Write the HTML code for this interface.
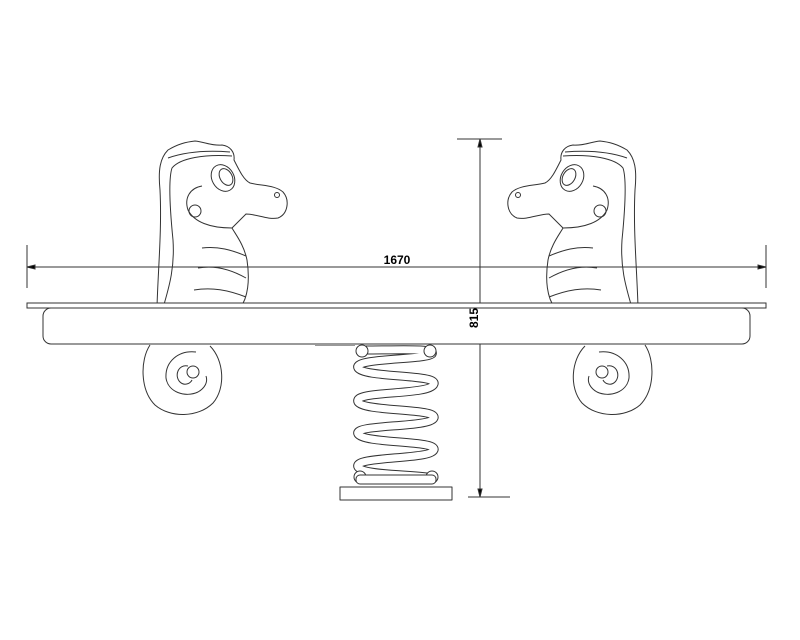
<!DOCTYPE html>
<html><head><meta charset="utf-8"><style>html,body{margin:0;padding:0;background:#fff}svg{display:block}</style></head>
<body>
<svg width="800" height="640" viewBox="0 0 800 640" xmlns="http://www.w3.org/2000/svg">
<g fill="none" stroke="#333" stroke-width="1">
<defs>
<g id="sh">
 <path d="M157,307 C158,270 162,230 160,190 C158,170 160,158 168,150 C178,144 186,142 195,141 C205,142 212,146 222,145 C230,146 235,152 234,160 C240,172 244,180 250,183 C262,186 275,185 283,192 C290,200 288,214 278,218 C268,220 256,214 246,214 C240,220 235,225 232,228 C236,235 244,245 247,260 C250,280 248,298 240,308"/>
 <path d="M163,308 C168,290 175,270 173,240 C170,210 168,180 172,168 C180,158 205,154 232,156"/>
 <path d="M168,158 C185,152 205,150 230,152"/>
 <ellipse cx="223" cy="178" rx="11" ry="14" transform="rotate(-30 223 178)"/>
 <ellipse cx="226" cy="177" rx="6" ry="9" transform="rotate(-30 226 177)"/>
 <circle cx="277" cy="195" r="2.5"/>
 <path d="M202,186 C190,188 184,198 188,210 C194,222 210,228 232,228"/>
 <circle cx="195" cy="211" r="6"/>
 <path d="M202,248 C218,246 232,250 246,256"/>
 <path d="M198,268 C215,265 232,270 246,278"/>
 <path d="M194,290 C212,287 228,290 246,297"/>
 <path d="M150,345 C140,360 140,390 155,405 C170,418 198,418 213,403 C226,388 224,360 210,346"/>
 <path d="M196,352 C178,350 165,362 166,378 C168,392 185,398 198,392 C205,388 208,382 206,376"/>
 <path d="M188,366 C178,364 174,376 180,382 C184,386 190,384 192,380"/>
 <circle cx="193" cy="372" r="6"/>
</g>
</defs>
<use href="#sh"/>
<use href="#sh" transform="translate(795,0) scale(-1,1)"/>
<line x1="27" y1="245" x2="27" y2="288"/>
<line x1="766" y1="245" x2="766" y2="288"/>
<line x1="27" y1="267" x2="766" y2="267"/>
<path d="M27,267 l8,-2 v4z M766,267 l-8,-2 v4z" fill="#000"/>
<line x1="457" y1="139" x2="502" y2="139"/>
<line x1="468" y1="497" x2="510" y2="497"/>
<line x1="480" y1="139" x2="480" y2="497"/>
<path d="M480,139 l-2,8 h4z M480,497 l-2,-8 h4z" fill="#000"/>
<rect x="27" y="303" width="739" height="5" fill="#fff"/>
<rect x="43" y="308" width="707" height="36" rx="8" fill="#fff"/>
<line x1="315" y1="345" x2="355" y2="345" stroke="#999" stroke-width="2"/>
</g>
<g fill="none" stroke-linejoin="round" stroke-linecap="round">
<path id="sp" d="M365,350 C400,350 436,348 432,354 C426,360 352,358 358,368 C364,378 438,374 434,384 C430,396 352,390 358,402 C364,412 438,408 434,418 C430,428 352,424 358,434 C364,444 438,440 434,450 C430,460 352,456 358,467 C364,476 420,474 432,478" stroke="#333" stroke-width="9"/>
<path d="M365,350 C400,350 436,348 432,354 C426,360 352,358 358,368 C364,378 438,374 434,384 C430,396 352,390 358,402 C364,412 438,408 434,418 C430,428 352,424 358,434 C364,444 438,440 434,450 C430,460 352,456 358,467 C364,476 420,474 432,478" stroke="#fff" stroke-width="7"/>
<g stroke="#333" stroke-width="1">
<circle cx="362" cy="351" r="6" fill="#fff"/><circle cx="430" cy="351" r="6" fill="#fff"/>
<circle cx="360" cy="477" r="6" fill="#fff"/><circle cx="432" cy="477" r="6" fill="#fff"/>
<rect x="356" y="475" width="80" height="9" rx="4" fill="#fff"/>
<rect x="340" y="487" width="112" height="13" fill="#fff"/>
</g>
</g>
<text x="397" y="264" font-family="Liberation Sans, sans-serif" font-size="12" font-weight="bold" text-anchor="middle">1670</text>
<text transform="translate(478,318) rotate(-90)" font-family="Liberation Sans, sans-serif" font-size="12" font-weight="bold" text-anchor="middle">815</text>
</svg>
</body></html>
